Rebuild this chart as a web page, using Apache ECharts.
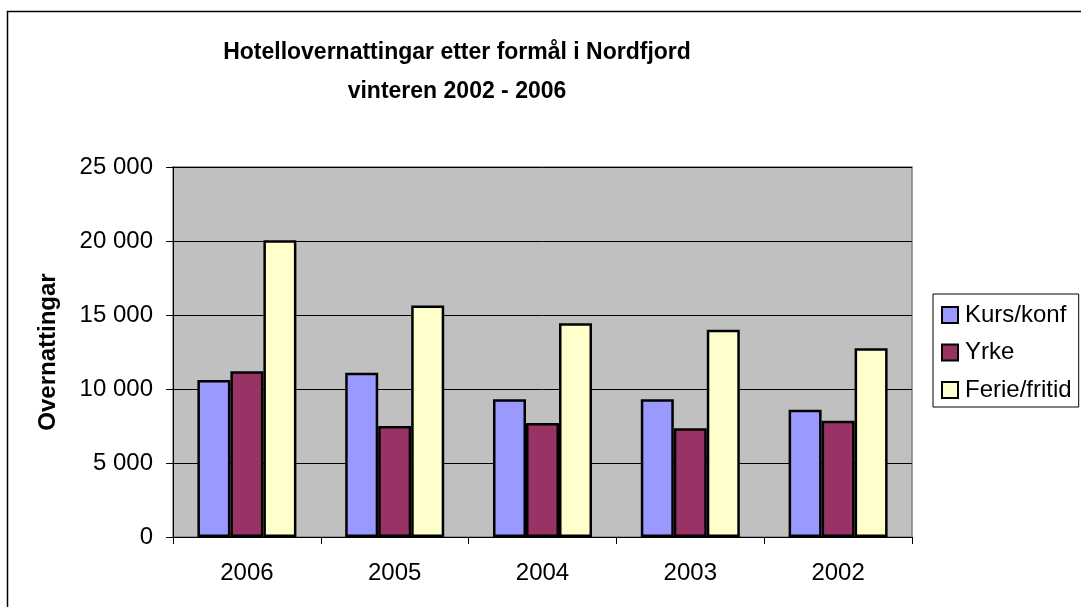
<!DOCTYPE html>
<html>
<head>
<meta charset="utf-8">
<script src="https://cdn.jsdelivr.net/npm/echarts@6/dist/echarts.min.js"></script>
<style>
  html, body { margin: 0; padding: 0; background: #fff; }
  #chart { width: 1081px; height: 607px; }
</style>
</head>
<body>
<div id="chart"></div>
<script>
const years = ['2006', '2005', '2004', '2003', '2002']
const kursKonf = [10600, 11100, 9300, 9300, 8600]
const yrke = [11200, 7500, 7700, 7350, 7850]
const ferieFritid = [20050, 15650, 14450, 14000, 12750]

const font = "'Liberation Sans', Arial, sans-serif"

function thousands(v) {
  return String(v).replace(/\B(?=(\d{3})+(?!\d))/g, ' ')
}

function barSeries(name, data, color) {
  return {
    name: name,
    type: 'bar',
    data: data,
    barWidth: 33,
    barGap: '0%',
    itemStyle: { color: color, borderColor: '#000', borderWidth: 2.5 }
  }
}

const myChart = echarts.init(document.getElementById('chart'), null, { renderer: 'canvas' })
const option = {
  animation: false,
  textStyle: { fontFamily: font },
  title: {
    text: 'Hotellovernattingar etter formål i Nordfjord\nvinteren 2002 - 2006',
    left: 457,
    top: 33,
    padding: 0,
    textAlign: 'center',
    textStyle: { fontFamily: font, fontSize: 23, fontWeight: 'bold', color: '#000', lineHeight: 39 }
  },
  graphic: [{
    type: 'rect',
    z: 100,
    shape: { x: 7.5, y: 11.5, width: 1200, height: 700 },
    style: { fill: null, stroke: '#000', lineWidth: 1.5 }
  }],
  legend: {
    orient: 'vertical',
    left: 933,
    top: 294,
    padding: [9, 7, 5, 8],
    itemWidth: 16,
    itemHeight: 16,
    itemGap: 13.5,
    borderColor: '#000',
    borderWidth: 1,
    icon: 'rect',
    textStyle: { fontFamily: font, fontSize: 24, lineHeight: 24, color: '#000', padding: [0, 0, 0, 2] },
    data: ['Kurs/konf', 'Yrke', 'Ferie/fritid']
  },
  grid: {
    left: 173,
    right: 169,
    top: 167,
    bottom: 70,
    show: true,
    backgroundColor: '#C0C0C0',
    borderColor: '#808080',
    borderWidth: 1.5
  },
  xAxis: {
    type: 'category',
    data: years,
    axisLine: { lineStyle: { color: '#000', width: 1 } },
    axisTick: { show: true, length: 7, lineStyle: { color: '#000' } },
    axisLabel: { fontFamily: font, fontSize: 24, color: '#000', margin: 24 }
  },
  yAxis: {
    type: 'value',
    min: 0,
    max: 25000,
    interval: 5000,
    name: 'Overnattingar',
    nameLocation: 'middle',
    nameRotate: 90,
    nameGap: 113,
    nameTextStyle: { fontFamily: font, fontSize: 24, fontWeight: 'bold', color: '#000' },
    axisLine: { show: true, lineStyle: { color: '#000', width: 1 } },
    axisTick: { show: true, length: 7, lineStyle: { color: '#000' } },
    axisLabel: { fontFamily: font, fontSize: 24, color: '#000', margin: 20, formatter: thousands },
    splitLine: { lineStyle: { color: '#000', width: 1 } }
  },
  series: [
    barSeries('Kurs/konf', kursKonf, '#9999FF'),
    barSeries('Yrke', yrke, '#993366'),
    barSeries('Ferie/fritid', ferieFritid, '#FFFFCC')
  ]
}
myChart.setOption(option, true)
window.addEventListener('resize', () => { myChart.resize() })
</script>
</body>
</html>
